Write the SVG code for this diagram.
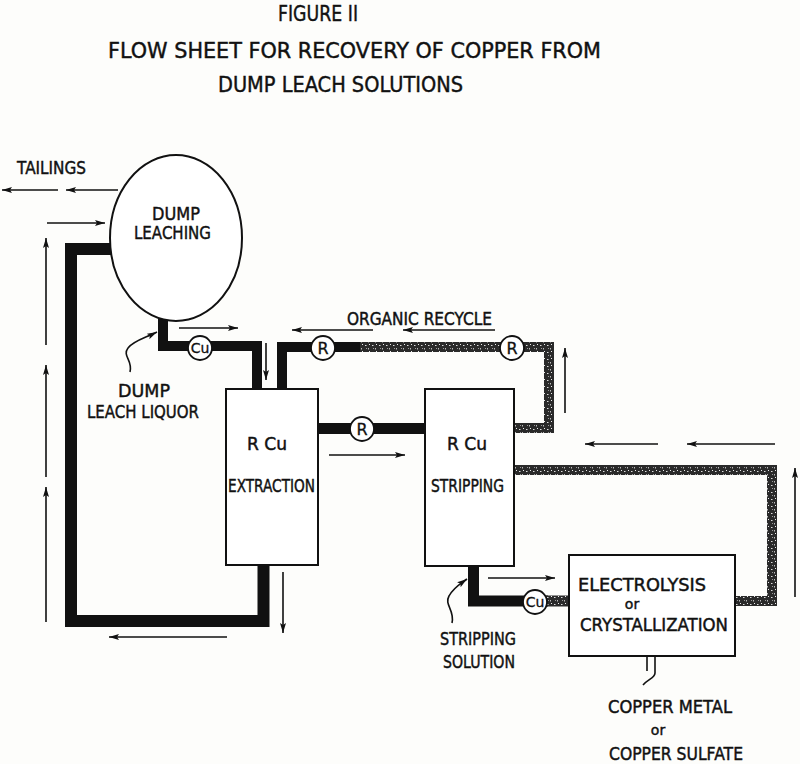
<svg xmlns="http://www.w3.org/2000/svg" width="800" height="764" viewBox="0 0 800 764">
<defs>
<marker id="ah" markerUnits="userSpaceOnUse" markerWidth="10" markerHeight="6" refX="10" refY="3" orient="auto">
<path d="M0,0 L10,3 L0,6 L2,3 z" fill="#111"/>
</marker>
<pattern id="spk" width="7" height="7" patternUnits="userSpaceOnUse">
<rect width="7" height="7" fill="#2a2a2a"/>
<rect x="1" y="2" width="1.5" height="1" fill="#ddd"/>
<rect x="4" y="5" width="1" height="1.5" fill="#bbb"/>
<rect x="5" y="1" width="1" height="1" fill="#eee"/>
<rect x="2" y="5" width="1" height="1" fill="#999"/>
</pattern>
<style>
text{font-family:"DejaVu Sans","Liberation Sans",sans-serif;fill:#111;stroke:#111;stroke-width:0.45;}
.t{font-size:22px;}
.l{font-size:17px;}
.c{font-size:14px;stroke-width:0.3;}
.box{fill:#fff;stroke:#111;stroke-width:2;}
.pipe{fill:none;stroke:#111;stroke-linejoin:miter;stroke-linecap:butt;}
.spk{fill:none;stroke:url(#spk);stroke-linejoin:miter;stroke-linecap:butt;}
.arr{fill:none;stroke:#111;stroke-width:1.6;marker-end:url(#ah);}
.thin{fill:none;stroke:#111;stroke-width:1.6;}
.valve{fill:#fff;stroke:#111;stroke-width:1.8;}
</style>
</defs>
<rect width="800" height="764" fill="#fdfdfb"/>

<g id="title">
<text class="t" x="278" y="21" textLength="80" lengthAdjust="spacingAndGlyphs">FIGURE II</text>
<text class="t" x="108" y="58" textLength="493" lengthAdjust="spacingAndGlyphs">FLOW  SHEET FOR RECOVERY OF COPPER FROM</text>
<text class="t" x="218" y="92" textLength="245" lengthAdjust="spacingAndGlyphs">DUMP LEACH SOLUTIONS</text>
</g>

<g id="connectors">
<path class="pipe" stroke-width="12" d="M113,249 H71 V621 H263.5 V565"/>
<path class="pipe" stroke-width="10" d="M163,316 V346 H257 V389"/>
<path class="spk" stroke-width="10" d="M282,389 V347 H549 V428 H514"/>
<path class="pipe" stroke-width="10" d="M282,389 V347 H360"/>
<path class="pipe" stroke-width="11" d="M318,428.5 H425"/>
<path class="spk" stroke-width="10" d="M514,470 H772 V601 H735"/>
<path class="pipe" stroke-width="11" d="M473.5,566 V601 H548"/>
<path class="spk" stroke-width="11" d="M546,601 H569"/>
<line class="arr" x1="118" y1="190" x2="66" y2="190"/>
<line class="arr" x1="58" y1="190" x2="2" y2="190"/>
<line class="arr" x1="47" y1="223" x2="105" y2="223"/>
<line class="arr" x1="46" y1="622" x2="46" y2="487"/>
<line class="arr" x1="46" y1="477" x2="46" y2="365"/>
<line class="arr" x1="46" y1="345" x2="46" y2="238"/>
<line class="arr" x1="227" y1="637" x2="109" y2="637"/>
<line class="arr" x1="283" y1="572" x2="283" y2="633"/>
<line class="arr" x1="179" y1="328" x2="238" y2="328"/>
<line class="arr" x1="266" y1="343" x2="266" y2="380"/>
<line class="arr" x1="373" y1="330" x2="292" y2="330"/>
<line class="arr" x1="495" y1="330" x2="403" y2="330"/>
<line class="arr" x1="565" y1="413" x2="565" y2="348"/>
<line class="arr" x1="329" y1="455" x2="405" y2="455"/>
<line class="arr" x1="488" y1="578" x2="555" y2="578"/>
<line class="arr" x1="658" y1="444" x2="585" y2="444"/>
<line class="arr" x1="775" y1="444" x2="687" y2="444"/>
<line class="arr" x1="795" y1="597" x2="795" y2="468"/>
<path class="arr" d="M130,372 C133,360 122,356 128,348 C133,341 145,338 157,332"/>
<path class="arr" d="M452,623 C455,610 444,605 449,596 C453,588 460,584 467,579"/>
<path class="thin" d="M647,656 V671 M655,656 V673 C655,678 648,679 643,685"/>
</g>

<g id="dump-leaching">
<ellipse cx="176" cy="238" rx="66" ry="83" fill="#fff" stroke="#111" stroke-width="2"/>
<text class="l" style="font-size:18px" x="176" y="220" text-anchor="middle" textLength="48" lengthAdjust="spacingAndGlyphs">DUMP</text>
<text class="l" style="font-size:18px" x="134" y="239" textLength="77" lengthAdjust="spacingAndGlyphs">LEACHING</text>
</g>

<g id="tailings">
<text class="l" x="17" y="174" textLength="69" lengthAdjust="spacingAndGlyphs">TAILINGS</text>
</g>

<g id="dump-leach-liquor">
<text class="l" style="font-size:18px" x="118" y="397" textLength="52" lengthAdjust="spacingAndGlyphs">DUMP</text>
<text class="l" style="font-size:18px" x="87" y="418" textLength="112" lengthAdjust="spacingAndGlyphs">LEACH LIQUOR</text>
</g>

<g id="organic-recycle">
<text class="l" x="347" y="325" textLength="145" lengthAdjust="spacingAndGlyphs">ORGANIC  RECYCLE</text>
</g>

<g id="extraction">
<rect class="box" x="226" y="389" width="92" height="176"/>
<text class="l" x="247" y="450" textLength="40" lengthAdjust="spacingAndGlyphs">R  Cu</text>
<text class="l" x="228" y="492" textLength="87" lengthAdjust="spacingAndGlyphs">EXTRACTION</text>
</g>

<g id="stripping">
<rect class="box" x="425" y="389" width="89" height="177"/>
<text class="l" x="447" y="450" textLength="40" lengthAdjust="spacingAndGlyphs">R  Cu</text>
<text class="l" x="431" y="492" textLength="73" lengthAdjust="spacingAndGlyphs">STRIPPING</text>
</g>

<g id="electrolysis">
<rect class="box" x="569" y="555" width="166" height="101"/>
<text class="l" x="578" y="591" textLength="128" lengthAdjust="spacingAndGlyphs">ELECTROLYSIS</text>
<text class="l" style="font-size:14px" x="632" y="609" text-anchor="middle">or</text>
<text class="l" x="580" y="631" textLength="148" lengthAdjust="spacingAndGlyphs">CRYSTALLIZATION</text>
</g>

<g id="stripping-solution">
<text class="l" x="440" y="645" textLength="76" lengthAdjust="spacingAndGlyphs">STRIPPING</text>
<text class="l" x="443" y="668" textLength="72" lengthAdjust="spacingAndGlyphs">SOLUTION</text>
</g>

<g id="product">
<text class="l" x="608" y="713" textLength="124" lengthAdjust="spacingAndGlyphs">COPPER  METAL</text>
<text class="l" style="font-size:14px" x="658" y="735" text-anchor="middle">or</text>
<text class="l" x="609" y="760" textLength="134" lengthAdjust="spacingAndGlyphs">COPPER  SULFATE</text>
</g>

<g id="valve-cu1"><circle class="valve" cx="200" cy="348" r="12"/><text class="c" x="200" y="353" text-anchor="middle">Cu</text></g>
<g id="valve-r1"><circle class="valve" cx="323" cy="348" r="12"/><text class="c" style="font-size:16px" x="323" y="354" text-anchor="middle">R</text></g>
<g id="valve-r2"><circle class="valve" cx="512" cy="348" r="12"/><text class="c" style="font-size:16px" x="512" y="354" text-anchor="middle">R</text></g>
<g id="valve-r3"><circle class="valve" cx="362" cy="429" r="12"/><text class="c" style="font-size:16px" x="362" y="435" text-anchor="middle">R</text></g>
<g id="valve-cu2"><circle class="valve" cx="535" cy="602" r="12"/><text class="c" x="535" y="607" text-anchor="middle">Cu</text></g>
</svg>
